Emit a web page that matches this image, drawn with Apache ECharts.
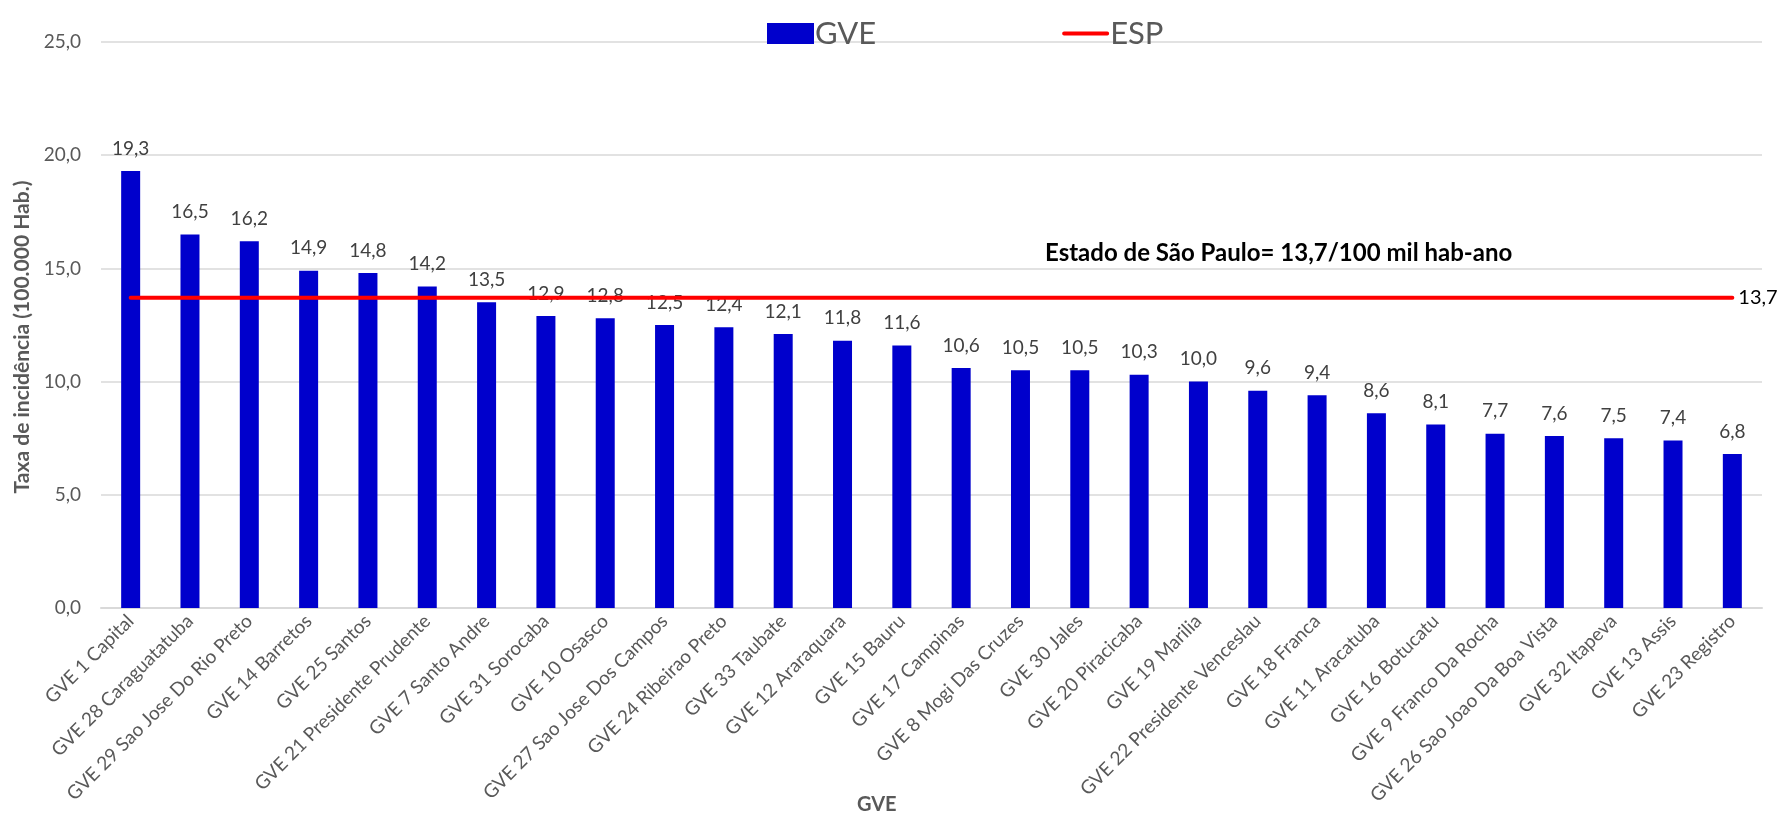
<!DOCTYPE html>
<html>
<head>
<meta charset="utf-8">
<script src="https://cdn.jsdelivr.net/npm/echarts@6/dist/echarts.min.js"></script>
<style>
html,body{margin:0;padding:0;background:#fff;}
#chart{width:1783px;height:818px;}
</style>
</head>
<body>
<div id="chart"></div>
<script>
const categories = [
  'GVE 1 Capital','GVE 28 Caraguatatuba','GVE 29 Sao Jose Do Rio Preto','GVE 14 Barretos',
  'GVE 25 Santos','GVE 21 Presidente Prudente','GVE 7 Santo Andre','GVE 31 Sorocaba',
  'GVE 10 Osasco','GVE 27 Sao Jose Dos Campos','GVE 24 Ribeirao Preto','GVE 33 Taubate',
  'GVE 12 Araraquara','GVE 15 Bauru','GVE 17 Campinas','GVE 8 Mogi Das Cruzes',
  'GVE 30 Jales','GVE 20 Piracicaba','GVE 19 Marilia','GVE 22 Presidente Venceslau',
  'GVE 18 Franca','GVE 11 Aracatuba','GVE 16 Botucatu','GVE 9 Franco Da Rocha',
  'GVE 26 Sao Joao Da Boa Vista','GVE 32 Itapeva','GVE 13 Assis','GVE 23 Registro'
];
const gveValues = [19.3,16.5,16.2,14.9,14.8,14.2,13.5,12.9,12.8,12.5,12.4,12.1,11.8,11.6,10.6,10.5,10.5,10.3,10.0,9.6,9.4,8.6,8.1,7.7,7.6,7.5,7.4,6.8];
const espValues = [13.7,13.7,13.7,13.7,13.7,13.7,13.7,13.7,13.7,13.7,13.7,13.7,13.7,13.7,13.7,13.7,13.7,13.7,13.7,13.7,13.7,13.7,13.7,13.7,13.7,13.7,13.7,13.7];
const yTicks = [0,5,10,15,20,25];

const FONT = 'Lato, "Open Sans", sans-serif';
const fmt = v => Number(v).toFixed(1).replace('.', ',');

const chart = echarts.init(document.getElementById('chart'));
chart.setOption({
  animation: false,
  backgroundColor: '#fff',
  textStyle: { fontFamily: FONT },
  legend: {
    left: 762, top: 13,
    itemWidth: 47, itemHeight: 21, itemGap: 186,
    textStyle: { fontSize: 31, color: '#595959', fontFamily: FONT, padding: [0,0,0,-4] },
    data: [
      { name: 'GVE', icon: 'rect' },
      { name: 'ESP', icon: 'path://M0,0 L0.01,0 L0.01,0.01 Z M2,8.5 L48,8.5 A2,2 0 0 1 48,12.5 L2,12.5 A2,2 0 0 1 2,8.5 Z M0,21 L0.01,21 L0.01,20.99 Z',
        itemStyle: { color: '#FF0000', borderWidth: 0 } }
    ]
  },
  grid: { left: 101, right: 21, top: 42, bottom: 210, containLabel: false },
  xAxis: {
    type: 'category',
    data: categories,
    axisLine: { lineStyle: { color: '#d9d9d9', width: 2 } },
    axisTick: { show: false },
    axisLabel: { interval: 0, rotate: 45, fontSize: 19, color: '#595959', margin: 10, fontFamily: FONT }
  },
  yAxis: {
    type: 'value',
    min: yTicks[0], max: yTicks[yTicks.length-1], interval: 5,
    name: 'Taxa de incidência (100.000 Hab.)',
    nameLocation: 'middle', nameGap: 68,
    nameTextStyle: { fontSize: 21, fontWeight: 'bold', color: '#595959', fontFamily: FONT, padding: [0, 24, 0, 0] },
    axisLine: { show: false },
    axisTick: { show: false },
    axisLabel: { fontSize: 19, color: '#595959', margin: 20, formatter: v => fmt(v), fontFamily: FONT },
    splitLine: { lineStyle: { color: '#d9d9d9', width: 1.5 } }
  },
  series: [
    {
      name: 'GVE', type: 'bar', data: gveValues,
      barWidth: 19,
      itemStyle: { color: '#0000CC' },
      label: { show: true, position: 'top', distance: 13, fontSize: 19, color: '#404040', formatter: p => fmt(p.value), fontFamily: FONT },
      z: 2
    },
    {
      name: 'ESP', type: 'line', data: espValues,
      symbol: 'none',
      lineStyle: { color: '#FF0000', width: 4, cap: 'round' },
      itemStyle: { color: '#FF0000' },
      endLabel: { show: true, formatter: p => fmt(p.value), fontSize: 20, color: '#000', distance: 6, fontFamily: FONT },
      z: 5
    }
  ],
  graphic: [
    { type: 'text', left: 1045, top: 241,
      style: { text: 'Estado de São Paulo= 13,7/100 mil hab-ano', fontSize: 24, fontWeight: 'bold', fill: '#000', fontFamily: FONT } },
    { type: 'text', left: 857, top: 795,
      style: { text: 'GVE', fontSize: 20, fontWeight: 'bold', fill: '#595959', fontFamily: FONT } }
  ]
});
</script>
</body>
</html>
